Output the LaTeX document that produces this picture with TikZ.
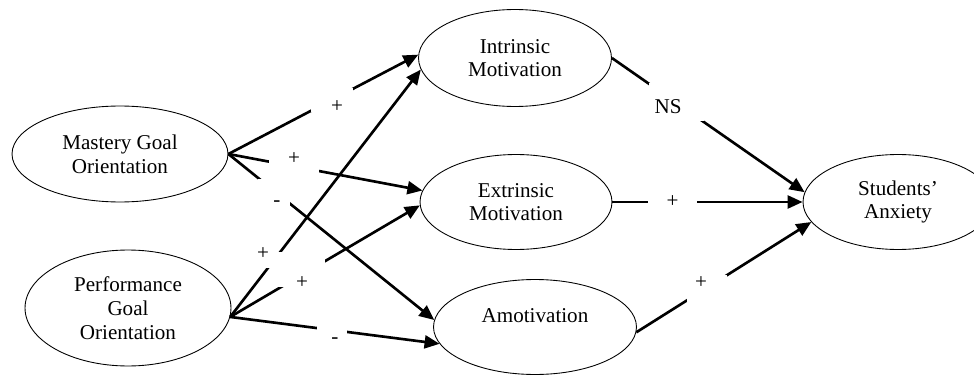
\documentclass[tikz,border=0pt]{standalone}
\usepackage{fontspec}
\setmainfont{Liberation Serif}
\usetikzlibrary{arrows.meta}
\usetikzlibrary{shapes.geometric}

\tikzset{
  var/.style={ellipse, draw, line width=0.5pt, align=center, inner sep=1pt},
  link/.style={-{Triangle[length=0.3cm, width=0.26cm]}, line width=1.5pt},
  gap/.style={fill=white, inner sep=0pt},
}

\begin{document}
\begin{tikzpicture}[x=0.02cm, y=-0.02cm, font=\fontsize{12}{13.5}\selectfont]
\useasboundingbox (0,0) rectangle (974,375);

% Nodes 
\node[var, minimum width=4.32cm, minimum height=1.92cm] at (120,154) (mg) {Mastery Goal\\Orientation};
\node[var, minimum width=4.12cm, minimum height=2.32cm] at (128,308) (pg) {Performance\\Goal\\Orientation};
\node[var, minimum width=3.86cm, minimum height=1.94cm] at (515,58) (im) {Intrinsic\\Motivation};
\node[var, minimum width=3.84cm, minimum height=1.9cm] at (516,202) (em) {Extrinsic\\Motivation};
\node[var, minimum width=4.06cm, minimum height=1.9cm] at (535,327) (am) {Amotivation\\\mbox{}};
\node[var, minimum width=3.8cm, minimum height=1.9cm] at (898,202) (sa) {Students’\\Anxiety};

% Lines 
\draw[link] (mg.east) -- (im.178);
\draw[link] (mg.east) -- (em.173);
\draw[link] (mg.east) -- (am.176);
\draw[link] (pg.355) -- (im.187);
\draw[link] (pg.355) -- (em.182);
\draw[link] (pg.355) -- (am.190);
\draw[link] (im.east) -- (sa.174);
\draw[link] (em.east) -- (sa.west);
\draw[link] (am.357) -- (sa.193);

% Signs (white boxes break the lines)
\node[gap, minimum width=0.84cm, minimum height=0.48cm, label={[xshift=0.1cm, yshift=-0.14cm]center:+}] at (332,100) (s1) {};
\node[gap, minimum width=1cm, minimum height=0.6cm, label={[yshift=0.06cm]center:+}] at (294,162) (s2) {};
\node[gap, minimum width=0.64cm, minimum height=0.54cm, label={[xshift=0.06cm, yshift=-0.23cm]center:-}] at (274,192.5) (s3) {};
\node[gap, minimum width=0.64cm, minimum height=0.32cm, label={[xshift=-0.06cm, yshift=0.12cm]center:+}] at (266,260) (s4) {};
\node[gap, minimum width=0.96cm, minimum height=0.58cm, label={[xshift=0.02cm, yshift=-0.21cm]center:+}] at (301,272.5) (s5) {};
\node[gap, minimum width=0.6cm, minimum height=0.44cm, label={[xshift=0.06cm, yshift=-0.16cm]center:-}] at (332,333) (s6) {};
\node[gap, minimum width=1.1cm, minimum height=0.76cm, label={[xshift=-0.17cm, yshift=-0.1cm]center:NS}] at (676.5,102) (s7) {};
\node[gap, minimum width=0.98cm, minimum height=0.4cm, label={center:+}] at (672.5,202) (s8) {};
\node[gap, minimum width=0.8cm, minimum height=0.54cm, label={[xshift=-0.12cm, yshift=0.11cm]center:+}] at (707,288.5) (s9) {};

\end{tikzpicture}
\end{document}
